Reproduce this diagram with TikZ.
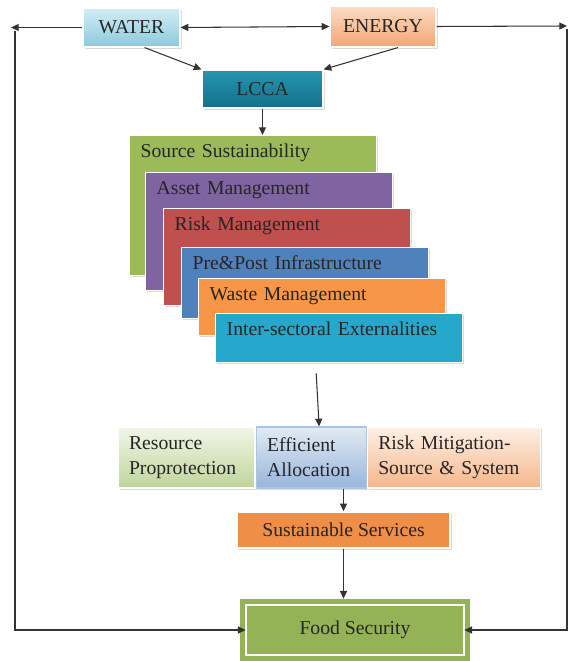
\documentclass[tikz,border=0pt]{standalone}
\usepackage{fontspec}
\setmainfont{Liberation Serif}
\usetikzlibrary{arrows.meta, shadows, positioning}

% one pixel of the layout
\newdimen\pxu \pxu=0.025cm

\definecolor{waterA}{HTML}{D3EDF5}
\definecolor{waterB}{HTML}{8CC9DC}
\definecolor{energyA}{HTML}{FCDCC4}
\definecolor{energyB}{HTML}{F3A574}
\definecolor{lccaA}{HTML}{2596B0}
\definecolor{lccaB}{HTML}{15708A}
\definecolor{srcG}{HTML}{9BBB59}
\definecolor{assetP}{HTML}{8064A2}
\definecolor{riskR}{HTML}{C0504D}
\definecolor{preB}{HTML}{4F81BD}
\definecolor{wasteO}{HTML}{F79646}
\definecolor{interT}{HTML}{25A8CC}
\definecolor{resA}{HTML}{F1F6E8}
\definecolor{resB}{HTML}{BFD59A}
\definecolor{effA}{HTML}{E2EAF4}
\definecolor{effB}{HTML}{98B5DB}
\definecolor{mitA}{HTML}{FDF0E6}
\definecolor{mitB}{HTML}{F5B68A}
\definecolor{sustO}{HTML}{EF8E47}
\definecolor{foodG}{HTML}{93B356}

\begin{document}
\begin{tikzpicture}[
  x=0.025cm, y=-0.025cm,
  every node/.style = {font=\fontsize{14}{18}\selectfont, text=black!85},
  conn/.style  = {-{Triangle[length=5.5pt,width=5pt]}, black!80, line width=0.75pt},
  shade/.style = {drop shadow={shadow xshift=1.2pt, shadow yshift=-1.2pt,
                  fill=black!40, opacity=.35}},
  topbox/.style = {draw=white, line width=0.8pt, inner sep=0pt, shade},
  sheet/.style 2 args = {anchor=north west, align=left, fill=#1,
                  draw=white, line width=1pt, shade,
                  inner xsep=11\pxu, inner ysep=9\pxu, text width=225\pxu,
                  text height=13\pxu, text depth=#2\pxu},
  rowbox/.style = {draw=white, line width=0.8pt, align=left, inner xsep=11\pxu,
                  minimum height=61\pxu, shade},
]
\useasboundingbox (0,0) rectangle (572,661);

% ---- inputs
\node[topbox, top color=waterA, bottom color=waterB,
      minimum width=97\pxu, minimum height=39\pxu] (water) at (131.5,27.5) {WATER};
\node[topbox, top color=energyA, bottom color=energyB,
      minimum width=106\pxu, minimum height=41\pxu] (energy) at (383,26.5) {ENERGY};
\node[topbox, top color=lccaA, bottom color=lccaB,
      minimum width=121\pxu, minimum height=38\pxu] (lcca) at (262.5,89) {LCCA};

\draw[conn, {Triangle[length=5.5pt,width=5pt]}-{Triangle[length=5.5pt,width=5pt]}]
  (water.east) -- (energy.west);
\draw[conn] ([xshift=13\pxu]water.south) -- (lcca.north west);
\draw[conn] ([xshift=15\pxu]energy.south) -- (lcca.north east);

% ---- stacked components
\node[sheet={srcG}{109}]    (src)   at (129,135) {Source Sustainability};
\node[sheet={assetP}{87}]   (asset) at (145,172) {Asset Management};
\node[sheet={riskR}{66}]    (risk)  at (163,208) {Risk Management};
\node[sheet={preB}{40}]     (pre)   at (181,247) {Pre\&Post Infrastructure};
\node[sheet={wasteO}{26}]   (waste) at (198,278) {Waste Management};
\node[sheet={interT}{18}]   (inter) at (215,313) {Inter-sectoral Externalities};

\draw[conn] (lcca.south) -- (lcca.south |- src.north);

% ---- outcomes row
\node[rowbox, top color=resA, bottom color=resB, text width=115\pxu]
  (res) at (186.5,457.5) {Resource\\Proprotection};
\node[rowbox, top color=effA, bottom color=effB, draw=effB!80, text width=88\pxu,
      right=0pt of res] (eff) {Efficient\\Allocation};
\node[rowbox, top color=mitA, bottom color=mitB, text width=151\pxu,
      right=0pt of eff] (mit) {Risk Mitigation-\\Source \& System};

\draw[conn] ([shift={(-23,10)}]inter.south) -- ([xshift=8\pxu]eff.north);

\node[topbox, fill=sustO, line width=1pt,
      minimum width=213\pxu, minimum height=36\pxu] (sust) at (343.5,530)
  {Sustainable Services};
\draw[conn] (eff.south -| sust.north) -- (sust.north);

% ---- goal
\node[fill=foodG, inner sep=0pt, minimum width=230\pxu, minimum height=62\pxu]
  (food) at (355,630) {Food Security};
\draw[white, line width=1.3pt] ([shift={(6,6)}]food.north west)
  rectangle ([shift={(-6,-6)}]food.south east);
\draw[conn] (sust.south) -- (sust.south |- food.north);

% ---- feedback loops
\coordinate (tl)  at (11,27.5);
\coordinate (tlv) at (15,31);
\coordinate (tr)  at (567,26);
\coordinate (trv) at (567,29);
\draw[conn] (water.west) -- (tl);
\draw[conn] (tlv) |- ([xshift=6\pxu]food.west);
\draw[conn] (energy.east) -- (tr);
\draw[conn] (trv) |- ([xshift=-6\pxu]food.east);

\end{tikzpicture}
\end{document}
